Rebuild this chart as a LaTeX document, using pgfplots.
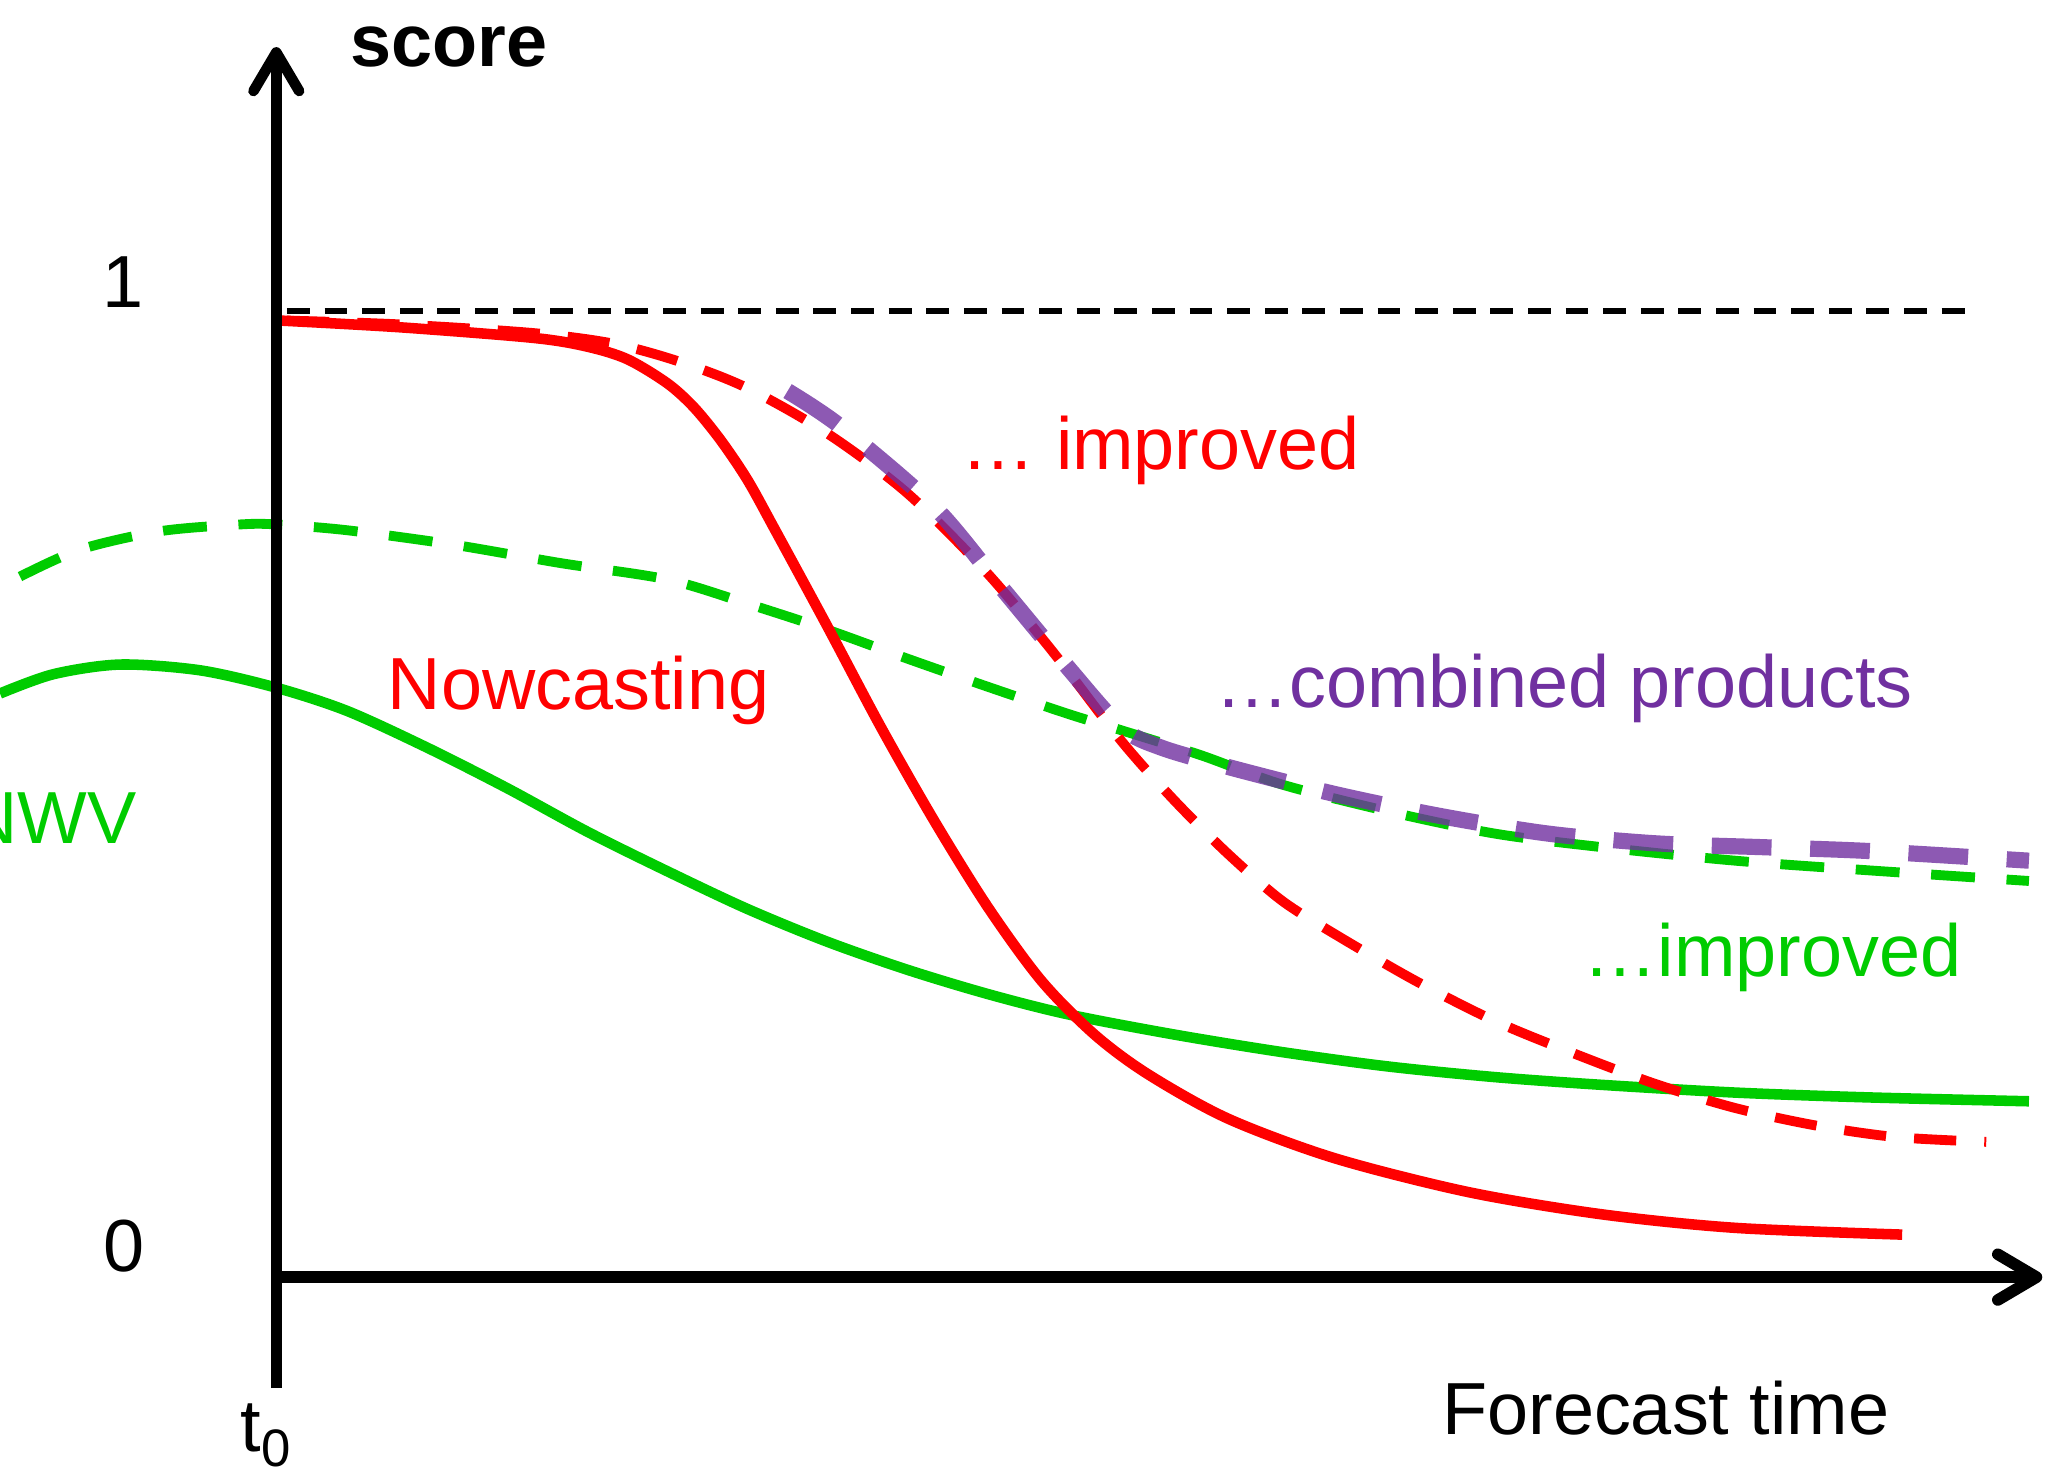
\documentclass[border=0pt]{standalone}
\usepackage{fontspec}
\setmainfont{Liberation Sans}
\usepackage{pgfplots}
\pgfplotsset{compat=1.18}
\usetikzlibrary{arrows.meta}

\definecolor{nred}{RGB}{255,0,0}
\definecolor{ngreen}{RGB}{0,204,0}
\definecolor{npurple}{RGB}{112,48,160}
\tikzset{lbl/.style={inner sep=0pt, font=\fontsize{21}{25}\selectfont}}

\begin{document}
\begin{tikzpicture}
\begin{axis}[
    scale only axis,
    width=20.69cm, height=14.76cm,
    xmin=-207, xmax=1343,
    ymin=-0.2058, ymax=1.3218,
    axis lines=none,
    clip=true,
]
% score = 1 reference
\addplot[black, line width=1.5pt, dash pattern=on 6.5pt off 4.2pt]
  coordinates {(8,1.0) (1273,1.0)};

% NWV improved
\addplot[ngreen, line width=2.8pt, dash pattern=on 12.5pt off 9pt, smooth]
  coordinates {(-192,0.725) (-147,0.753) (-87,0.772) (-27,0.779) (0,0.779)
    (53,0.773) (133,0.758) (213,0.739) (293,0.722) (353,0.697) (413,0.670)
    (473,0.640) (533,0.611) (593,0.583) (633,0.566) (693,0.540) (753,0.510)
    (833,0.482) (913,0.459) (993,0.445) (1093,0.431) (1193,0.421) (1313,0.410)};

% NWV
\addplot[ngreen, line width=3pt, smooth]
  coordinates {(-207,0.604) (-167,0.624) (-117,0.634) (-57,0.628) (0,0.610)
    (53,0.586) (113,0.548) (173,0.506) (233,0.461) (293,0.420) (353,0.381)
    (413,0.347) (473,0.318) (533,0.293) (593,0.272) (673,0.251) (753,0.233)
    (833,0.218) (913,0.207) (993,0.199) (1093,0.191) (1193,0.186) (1313,0.182)};

% Nowcasting
\addplot[nred, line width=3pt, smooth]
  coordinates {(3,0.990) (93,0.983) (193,0.972) (233,0.963) (263,0.950)
    (293,0.925) (313,0.900) (333,0.866) (353,0.825) (373,0.775) (413,0.673)
    (453,0.569) (493,0.472) (533,0.383) (573,0.307) (613,0.251) (653,0.210)
    (713,0.164) (793,0.123) (893,0.088) (993,0.065) (1093,0.051) (1218,0.044)};

% Nowcasting improved
\addplot[nred, line width=2.8pt, dash pattern=on 12pt off 8pt, smooth]
  coordinates {(8,0.990) (93,0.986) (193,0.977) (253,0.966) (303,0.947)
    (353,0.920) (413,0.873) (473,0.811) (533,0.728) (583,0.645) (633,0.555)
    (673,0.493) (713,0.438) (753,0.390) (793,0.355) (853,0.307) (913,0.265)
    (973,0.231) (1033,0.200) (1093,0.175) (1153,0.157) (1213,0.145) (1281,0.140)};

% combined products
\addplot[npurple, opacity=0.8, line width=4.6pt, dash pattern=on 17pt off 11pt, smooth]
  coordinates {(383,0.917) (423,0.880) (493,0.797) (543,0.714) (593,0.631)
    (633,0.569) (663,0.548) (713,0.528) (793,0.500) (873,0.477) (953,0.459)
    (1033,0.449) (1113,0.445) (1193,0.441) (1313,0.431)};

% axes
\draw[line width=3pt, -{Straight Barb[length=11pt,width=13pt,round]}]
  (axis cs:0,-0.115) -- (axis cs:0,1.273);
\draw[line width=3.3pt, -{Straight Barb[length=11pt,width=13pt,round]}]
  (axis cs:0,0) -- (axis cs:1323,0);

% labels
\node[lbl, anchor=base west, font=\fontsize{21}{25}\selectfont\bfseries] at (axis cs:55,1.253) {score};
\node[lbl, anchor=base] at (axis cs:-115,1.004) {1};
\node[lbl, anchor=base] at (axis cs:-114,0.0055) {0};
\node[lbl, anchor=base west] at (axis cs:-27,-0.180)
  {t\raisebox{-4.5pt}{\fontsize{15}{18}\selectfont 0}};
\node[lbl, anchor=base west] at (axis cs:873,-0.163) {Forecast time};
\node[lbl, anchor=base west, text=nred] at (axis cs:83,0.587) {Nowcasting};
\node[lbl, anchor=base west, text=nred] at (axis cs:513,0.836) {… improved};
\node[lbl, anchor=base west, text=npurple] at (axis cs:703,0.590) {…combined products};
\node[lbl, anchor=base west, text=ngreen] at (axis cs:979,0.311) {…improved};
\node[lbl, anchor=base east, text=ngreen] at (axis cs:-104,0.449) {NWV};
\end{axis}
\pgfresetboundingbox
\path[use as bounding box] (current axis.south west) rectangle (current axis.north east);
\end{tikzpicture}
\end{document}
